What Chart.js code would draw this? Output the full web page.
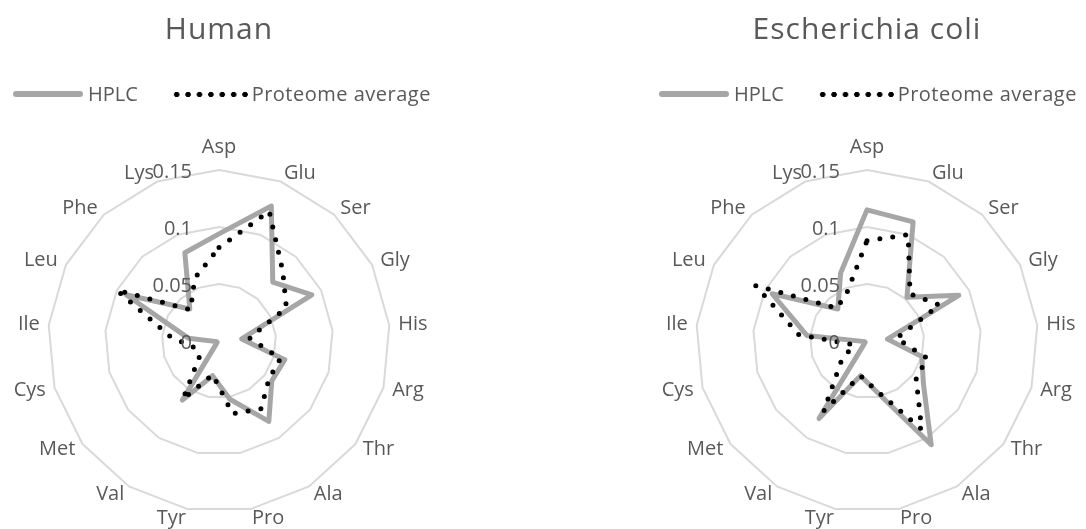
<!DOCTYPE html>
<html>
<head>
<meta charset="utf-8">
<script src="https://cdn.jsdelivr.net/npm/chart.js@4.4.1/dist/chart.umd.min.js"></script>
<style>
  html, body { margin: 0; padding: 0; background: #fff; }
  body { width: 1086px; height: 529px; position: relative; overflow: hidden; font-family: "Open Sans", sans-serif; color: #595959; }
  .panel { position: absolute; top: 0; width: 543px; height: 529px; }
  .chart-box { position: absolute; left: 0; top: 0; width: 543px; height: 529px; }
  .title { position: absolute; top: 12.7px; width: 400px; text-align: center; font-size: 30px; line-height: 30px; letter-spacing: 1px; }
  .legend { position: absolute; top: 84px; display: flex; align-items: center; font-size: 20px; line-height: 20px; white-space: nowrap; }
  .legend .solid { width: 70px; height: 5.5px; border-radius: 3px; background: #a6a6a6; margin-right: 5px; }
  .legend .dots { width: 79.8px; height: 7px; margin-left: 33px; margin-right: 1px;
    background-image: radial-gradient(circle, #000 2.4px, transparent 3px);
    background-size: 11.4px 7px; background-repeat: repeat-x; }
  .legend .wide { letter-spacing: 0.5px; }
</style>
</head>
<body>
<div class="panel" id="panel-human" style="left:0">
  <div class="chart-box"><canvas id="chart-human"></canvas></div>
  <div class="title" style="left:19px">Human</div>
  <div class="legend" style="left:13px"><span class="solid"></span><span>HPLC</span><span class="dots"></span><span class="wide">Proteome average</span></div>
</div>
<div class="panel" id="panel-ecoli" style="left:543px">
  <div class="chart-box"><canvas id="chart-ecoli"></canvas></div>
  <div class="title" style="left:124px">Escherichia coli</div>
  <div class="legend" style="left:116px"><span class="solid"></span><span>HPLC</span><span class="dots"></span><span class="wide">Proteome average</span></div>
</div>

<script>
// amino acids, clockwise from the top
const categories = ['Asp', 'Glu', 'Ser', 'Gly', 'His', 'Arg', 'Thr', 'Ala', 'Pro', 'Tyr', 'Val', 'Met', 'Cys', 'Ile', 'Leu', 'Phe', 'Lys'];

const humanHplc      = [0.094, 0.127, 0.070, 0.091, 0.020, 0.060, 0.058, 0.083, 0.052, 0.031, 0.061, 0.002, 0.002, 0.027, 0.091, 0.038, 0.083];
const humanProteome  = [0.082, 0.122, 0.083, 0.066, 0.027, 0.056, 0.055, 0.070, 0.065, 0.030, 0.060, 0.021, 0.022, 0.043, 0.100, 0.037, 0.059];
const ecoliHplc      = [0.115, 0.112, 0.052, 0.090, 0.018, 0.050, 0.062, 0.107, 0.045, 0.031, 0.080, 0.002, 0.002, 0.053, 0.093, 0.038, 0.064];
const ecoliProteome  = [0.088, 0.100, 0.056, 0.071, 0.026, 0.055, 0.054, 0.091, 0.044, 0.031, 0.072, 0.028, 0.012, 0.060, 0.109, 0.039, 0.047];

const tickValues = [0, 0.05, 0.1, 0.15];
const tickLabels = ['0', '0.05', '0.1', '0.15'];

const textColor = '#595959';
const labelFont = '20px "Open Sans"';

// Excel-like labels: ticks sit left of the vertical axis, category names outside the outer ring
const excelLabels = {
  id: 'excelLabels',
  afterDraw(chart) {
    const scale = chart.scales.r;
    const ctx = chart.ctx;
    ctx.save();
    ctx.font = labelFont;
    ctx.fillStyle = textColor;
    ctx.textBaseline = 'middle';

    ctx.textAlign = 'right';
    tickValues.forEach((v, i) => {
      const d = scale.getDistanceFromCenterForValue(v);
      ctx.fillText(tickLabels[i], scale.xCenter - 27, scale.yCenter - d + 2);
    });

    chart.data.labels.forEach((label, i) => {
      const p = scale.getPointPosition(i, scale.drawingArea + 9);
      const angle = scale.getIndexAngle(i);
      const s = Math.sin(angle);
      ctx.textAlign = Math.abs(s) < 0.05 ? 'center' : (s > 0 ? 'left' : 'right');
      let y = p.y;
      if (Math.cos(angle) > 0.99) y -= 14;
      ctx.fillText(label, p.x, y);
    });
    ctx.restore();
  }
};

function makeRadar(id, hplc, proteome, padLeft) {
  const radius = 171;
  return new Chart(document.getElementById(id), {
    type: 'radar',
    data: {
      labels: categories,
      datasets: [{
        label: 'HPLC',
        data: hplc,
        borderColor: '#a6a6a6',
        borderWidth: 5,
        borderJoinStyle: 'round',
        pointRadius: 0,
        fill: false,
        order: 2
      }, {
        label: 'Proteome average',
        data: proteome,
        borderColor: '#000000',
        borderWidth: 5,
        borderDash: [0, 13],
        borderCapStyle: 'round',
        pointRadius: 0,
        fill: false,
        order: 1
      }]
    },
    options: {
      responsive: true,
      maintainAspectRatio: false,
      animation: false,
      layout: {
        padding: { left: padLeft, right: 543 - padLeft - radius * 2, top: 170, bottom: 529 - 170 - radius * 2 }
      },
      plugins: {
        legend: { display: false },
        tooltip: { enabled: false }
      },
      scales: {
        r: {
          min: 0,
          max: 0.15,
          ticks: { stepSize: 0.05, display: false },
          grid: { color: '#d9d9d9', lineWidth: 2 },
          angleLines: { display: false },
          pointLabels: { display: false }
        }
      }
    },
    plugins: [excelLabels]
  });
}

document.fonts.load(labelFont).finally(() => {
  makeRadar('chart-human', humanHplc, humanProteome, 48);
  makeRadar('chart-ecoli', ecoliHplc, ecoliProteome, 153);
});
</script>
</body>
</html>
